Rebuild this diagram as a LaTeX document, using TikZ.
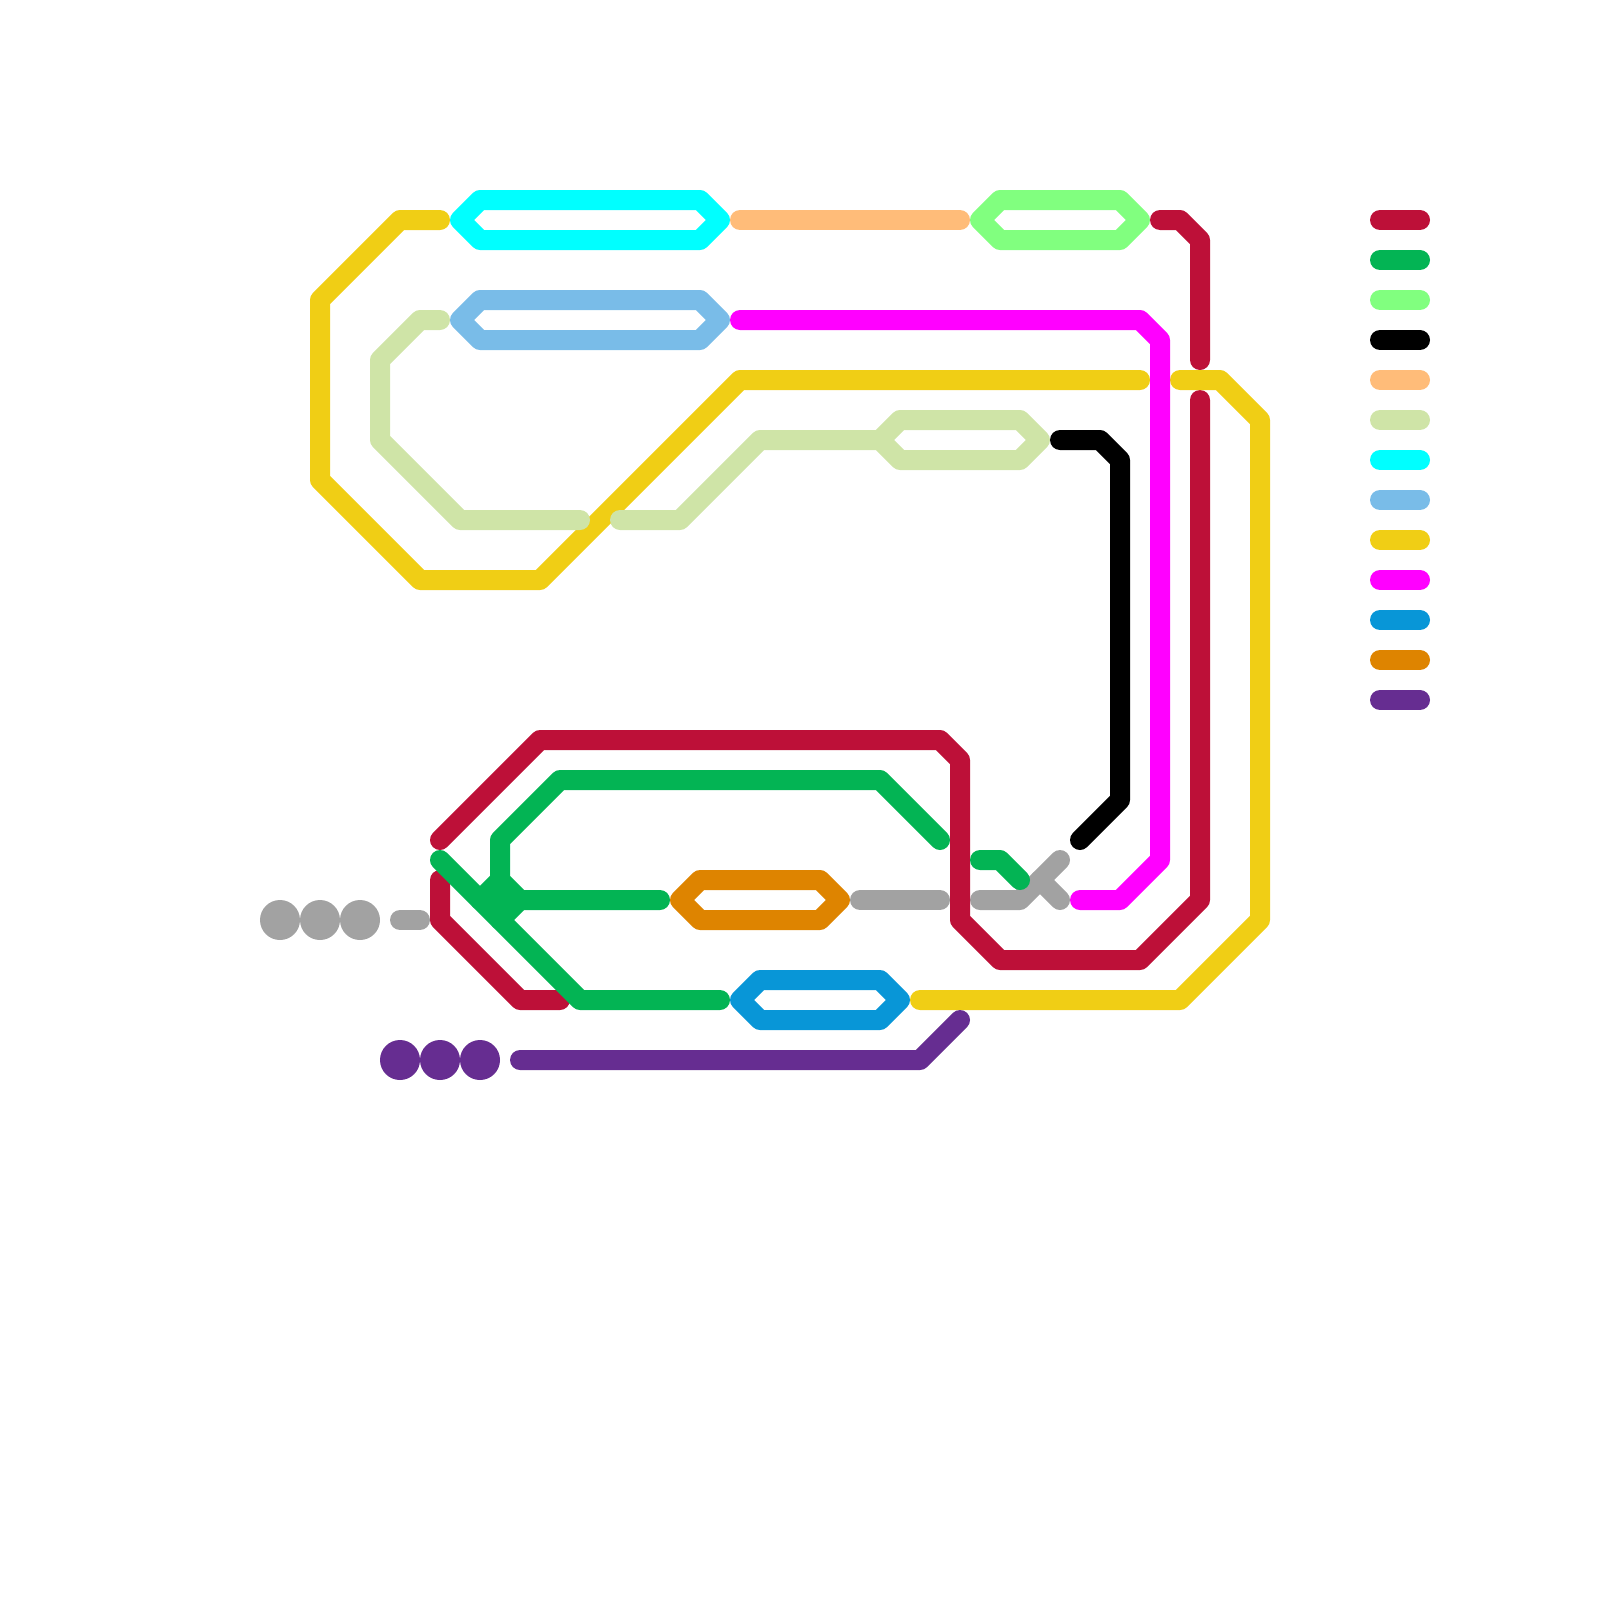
\documentclass[tikz,border=0pt]{standalone}
\definecolor{cred}{HTML}{BD1038}
\definecolor{cgreen}{HTML}{03B454}
\definecolor{clime}{HTML}{81FF7F}
\definecolor{cpeach}{HTML}{FFBC79}
\definecolor{cpale}{HTML}{CFE4A7}
\definecolor{ccyan}{HTML}{00FFFF}
\definecolor{csky}{HTML}{79BCE8}
\definecolor{cyellow}{HTML}{F0CE15}
\definecolor{cmag}{HTML}{FF00FF}
\definecolor{cblue}{HTML}{0896D7}
\definecolor{corange}{HTML}{DE8400}
\definecolor{cpurple}{HTML}{662D91}
\definecolor{cgrey}{HTML}{A2A2A2}
\tikzset{
  x=0.05cm,y=-0.05cm,
  route/.style={line width=1cm,line cap=round,line join=round,draw=#1},
  stop/.style={circle,fill=#1,draw=none,minimum size=2cm,inner sep=0pt,outer sep=0pt}
}
\begin{document}
\begin{tikzpicture}
\useasboundingbox (0,0) rectangle (1600,1600);
% grey
\draw[route=cgrey] (860,900) -- (940,900);
\draw[route=cgrey] (980,900) -- (1020,900) -- (1060,860);
\draw[route=cgrey] (1040,880) -- (1060,900);
\draw[route=cgrey] (400,920) -- (420,920);
\node[stop=cgrey] (g1) at (280,920) {};
\node[stop=cgrey] (g2) at (320,920) {};
\node[stop=cgrey] (g3) at (360,920) {};
% red
\draw[route=cred] (1160,220) -- (1180,220) -- (1200,240) -- (1200,360);
\draw[route=cred] (1200,400) -- (1200,900) -- (1140,960) -- (1000,960) -- (960,920) -- (960,760) -- (940,740) -- (540,740) -- (440,840);
\draw[route=cred] (440,880) -- (440,920) -- (520,1000) -- (560,1000);
% green
\fill[cgreen] (500,880) -- (520,900) -- (500,920) -- (480,900) -- cycle;
\draw[route=cgreen] (440,860) -- (580,1000) -- (720,1000);
\draw[route=cgreen] (940,840) -- (880,780) -- (560,780) -- (500,840) -- (500,880) -- (520,900) -- (660,900);
\draw[route=cgreen] (500,880) -- (480,900);
\draw[route=cgreen] (520,900) -- (500,920);
\draw[route=cgreen] (980,860) -- (1000,860) -- (1020,880);
% lime
\draw[route=clime] (980,220) -- (1000,200) -- (1120,200) -- (1140,220) -- (1120,240) -- (1000,240) -- cycle;
% black
\draw[route=black] (1060,440) -- (1100,440) -- (1120,460) -- (1120,800) -- (1080,840);
% peach
\draw[route=cpeach] (740,220) -- (960,220);
% yellow
\draw[route=cyellow] (440,220) -- (400,220) -- (320,300) -- (320,480) -- (420,580) -- (540,580) -- (740,380) -- (1140,380);
\draw[route=cyellow] (1180,380) -- (1220,380) -- (1260,420) -- (1260,920) -- (1180,1000) -- (920,1000);
% pale
\draw[route=cpale] (440,320) -- (420,320) -- (380,360) -- (380,440) -- (460,520) -- (580,520);
\draw[route=cpale] (620,520) -- (680,520) -- (760,440) -- (880,440) -- (900,420) -- (1020,420) -- (1040,440) -- (1020,460) -- (900,460) -- (880,440);
% cyan
\draw[route=ccyan] (460,220) -- (480,200) -- (700,200) -- (720,220) -- (700,240) -- (480,240) -- cycle;
% sky
\draw[route=csky] (460,320) -- (480,300) -- (700,300) -- (720,320) -- (700,340) -- (480,340) -- cycle;
% magenta
\draw[route=cmag] (740,320) -- (1140,320) -- (1160,340) -- (1160,860) -- (1120,900) -- (1080,900);
% blue
\draw[route=cblue] (740,1000) -- (760,980) -- (880,980) -- (900,1000) -- (880,1020) -- (760,1020) -- cycle;
% orange
\draw[route=corange] (680,900) -- (700,880) -- (820,880) -- (840,900) -- (820,920) -- (700,920) -- cycle;
% purple
\draw[route=cpurple] (520,1060) -- (920,1060) -- (960,1020);
\node[stop=cpurple] (p1) at (400,1060) {};
\node[stop=cpurple] (p2) at (440,1060) {};
\node[stop=cpurple] (p3) at (480,1060) {};
% legend
\foreach \c [count=\i from 0] in {cred,cgreen,clime,black,cpeach,cpale,ccyan,csky,cyellow,cmag,cblue,corange,cpurple}
  \draw[route=\c] (1380,220+40*\i) -- (1420,220+40*\i);
\end{tikzpicture}
\end{document}
